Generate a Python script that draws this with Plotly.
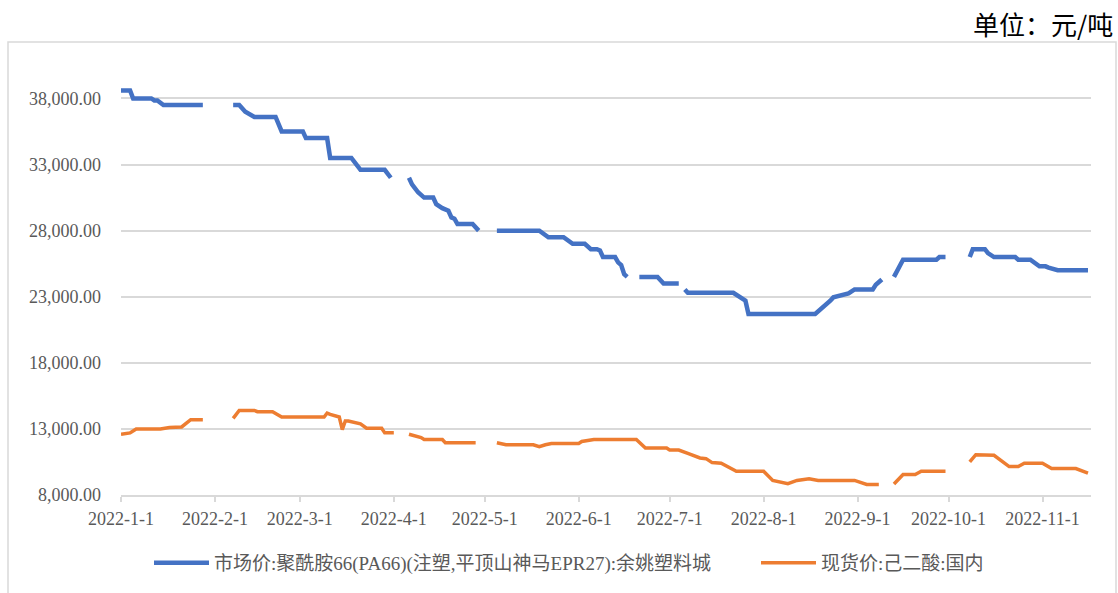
import plotly.graph_objects as go

# ---------------- data ----------------
pa66_name = "市场价:聚酰胺66(PA66)(注塑,平顶山神马EPR27):余姚塑料城"
aa_name = "现货价:己二酸:国内"

pa66_dates = [
    "2022-01-01", "2022-01-04", "2022-01-05", "2022-01-11", "2022-01-12", "2022-01-13",
    "2022-01-15", "2022-01-28", "2022-01-31", "2022-02-07", "2022-02-09", "2022-02-11",
    "2022-02-13", "2022-02-14", "2022-02-21", "2022-02-23", "2022-03-02", "2022-03-03",
    "2022-03-10", "2022-03-11", "2022-03-18", "2022-03-21", "2022-03-29", "2022-03-31",
    "2022-04-02", "2022-04-06", "2022-04-07", "2022-04-09", "2022-04-11", "2022-04-14",
    "2022-04-15", "2022-04-17", "2022-04-19", "2022-04-20", "2022-04-21", "2022-04-22",
    "2022-04-27", "2022-04-29", "2022-05-01", "2022-05-05", "2022-05-19", "2022-05-22",
    "2022-05-27", "2022-05-30", "2022-06-03", "2022-06-05", "2022-06-07", "2022-06-08",
    "2022-06-09", "2022-06-13", "2022-06-14", "2022-06-15", "2022-06-16", "2022-06-17",
    "2022-06-19", "2022-06-21", "2022-06-27", "2022-06-29", "2022-07-04", "2022-07-05",
    "2022-07-06", "2022-07-07", "2022-07-22", "2022-07-25", "2022-07-26", "2022-07-27",
    "2022-08-18", "2022-08-23", "2022-08-24", "2022-08-29", "2022-08-31", "2022-09-06",
    "2022-09-07", "2022-09-09", "2022-09-11", "2022-09-13", "2022-09-15", "2022-09-16",
    "2022-09-27", "2022-09-28", "2022-09-30", "2022-10-03", "2022-10-08", "2022-10-09",
    "2022-10-13", "2022-10-14", "2022-10-16", "2022-10-23", "2022-10-24", "2022-10-28",
    "2022-10-31", "2022-11-02", "2022-11-03", "2022-11-06", "2022-11-16",
]
pa66_values = [
    38600, 38600, 38000, 38000, 37850, 37850,
    37500, 37500, None, 37500, 37500, 37000,
    36700, 36600, 36600, 35500, 35500, 35000,
    35000, 33500, 33500, 32600, 32600, 32000,
    None, 32000, 31500, 30900, 30500, 30500,
    30000, 29700, 29500, 29000, 28900, 28500,
    28500, 28000, None, 28000, 28000, 27500,
    27500, 27000, 27000, 26600, 26600, 26500,
    26000, 26000, 25600, 25400, 24700, 24500,
    None, 24500, 24500, 24000, 24000, None,
    23550, 23300, 23300, 22850, 22700, 21700,
    21700, 22700, 22950, 23250, 23550, 23550,
    23900, 24300, None, 24500, 25400, 25800,
    25800, 26000, 26000, None, 26000, 26600,
    26600, 26300, 26000, 26000, 25800, 25800,
    25300, 25300, 25200, 25000, 25000,
]

aa_dates = [
    "2022-01-01", "2022-01-03", "2022-01-04", "2022-01-06", "2022-01-14", "2022-01-17",
    "2022-01-21", "2022-01-24", "2022-01-28", "2022-01-31", "2022-02-07", "2022-02-09",
    "2022-02-14", "2022-02-15", "2022-02-20", "2022-02-23", "2022-03-09", "2022-03-10",
    "2022-03-11", "2022-03-14", "2022-03-15", "2022-03-16", "2022-03-17", "2022-03-21",
    "2022-03-23", "2022-03-28", "2022-03-29", "2022-04-01", "2022-04-03", "2022-04-06",
    "2022-04-08", "2022-04-10", "2022-04-11", "2022-04-17", "2022-04-18", "2022-04-28",
    "2022-05-01", "2022-05-05", "2022-05-08", "2022-05-17", "2022-05-19", "2022-05-21",
    "2022-05-23", "2022-06-01", "2022-06-02", "2022-06-06", "2022-06-20", "2022-06-23",
    "2022-06-30", "2022-07-01", "2022-07-04", "2022-07-07", "2022-07-11", "2022-07-13",
    "2022-07-15", "2022-07-18", "2022-07-20", "2022-07-23", "2022-08-01", "2022-08-04",
    "2022-08-09", "2022-08-12", "2022-08-16", "2022-08-19", "2022-08-31", "2022-09-04",
    "2022-09-08", "2022-09-11", "2022-09-13", "2022-09-16", "2022-09-20", "2022-09-22",
    "2022-09-30", "2022-10-03", "2022-10-08", "2022-10-10", "2022-10-16", "2022-10-18",
    "2022-10-21", "2022-10-24", "2022-10-26", "2022-11-01", "2022-11-04", "2022-11-12",
    "2022-11-13", "2022-11-16",
]
aa_values = [
    12600, 12650, 12700, 13000, 13000, 13100,
    13150, 13700, 13700, None, 13800, 14400,
    14400, 14300, 14300, 13900, 13900, 14200,
    14100, 13900, 12950, 13600, 13600, 13380,
    13050, 13050, 12700, 12700, None, 12600,
    12450, 12350, 12200, 12200, 11950, 11950,
    None, 11950, 11800, 11800, 11650, 11800,
    11900, 11900, 12050, 12200, 12200, 11550,
    11550, 11400, 11400, 11150, 10800, 10750,
    10450, 10400, 10150, 9800, 9800, 9100,
    8850, 9100, 9230, 9100, 9100, 8800,
    8800, None, 8830, 9550, 9550, 9800,
    9800, None, 10500, 11050, 11000, 10650,
    10150, 10150, 10400, 10400, 10000, 10000,
    9900, 9650,
]

x_tick_vals = ["2022-01-01", "2022-02-01", "2022-03-01", "2022-04-01", "2022-05-01", "2022-06-01",
               "2022-07-01", "2022-08-01", "2022-09-01", "2022-10-01", "2022-11-01"]
x_tick_text = ["2022-1-1", "2022-2-1", "2022-3-1", "2022-4-1", "2022-5-1", "2022-6-1",
               "2022-7-1", "2022-8-1", "2022-9-1", "2022-10-1", "2022-11-1"]
y_tick_vals = [8000, 13000, 18000, 23000, 28000, 33000, 38000]
y_tick_text = ["8,000.00", "13,000.00", "18,000.00", "23,000.00", "28,000.00", "33,000.00", "38,000.00"]

# ---------------- figure ----------------
SERIF = "Liberation Serif, Times New Roman, Noto Sans CJK SC, serif"
GRID = "#d9d9d9"
TXT = "#595959"

fig = go.Figure()
fig.add_trace(go.Scatter(
    x=pa66_dates, y=pa66_values, name=pa66_name, mode="lines",
    line=dict(color="#4472C4", width=4.5), connectgaps=False, legend="legend",
))
fig.add_trace(go.Scatter(
    x=aa_dates, y=aa_values, name=aa_name, mode="lines",
    line=dict(color="#ED7D31", width=3.5), connectgaps=False, legend="legend2",
))

W, H = 1118, 593
L, R, T, B = 121, 27, 72, 97
pw, ph = W - L - R, H - T - B

def px_x(p):
    return (p - L) / pw

def px_y(p):
    return (H - B - p) / ph

fig.update_layout(
    width=W, height=H,
    margin=dict(l=L, r=R, t=T, b=B),
    paper_bgcolor="white", plot_bgcolor="white",
    font=dict(family=SERIF, color=TXT, size=18),
    xaxis=dict(
        type="date", range=["2022-01-01", "2022-11-17"],
        tickvals=x_tick_vals, ticktext=x_tick_text,
        showgrid=False, zeroline=False,
        showline=True, linecolor=GRID, linewidth=1.5,
        ticks="outside", ticklen=5, tickcolor=GRID, tickwidth=1.5,
        ticklabelstandoff=2,
        tickfont=dict(family=SERIF, size=18, color=TXT),
    ),
    yaxis=dict(
        range=[8000, 40000], tickvals=y_tick_vals, ticktext=y_tick_text,
        showgrid=True, gridcolor=GRID, gridwidth=1.5,
        zeroline=False, showline=False, ticks="",
        ticklabelstandoff=19,
        tickfont=dict(family=SERIF, size=18, color=TXT),
    ),
    legend=dict(
        orientation="h", x=px_x(149), y=px_y(563), xanchor="left", yanchor="middle",
        itemwidth=55,
        font=dict(family=SERIF, size=19, color=TXT), bgcolor="rgba(0,0,0,0)",
    ),
    legend2=dict(
        orientation="h", x=px_x(756), y=px_y(563), xanchor="left", yanchor="middle",
        itemwidth=55,
        font=dict(family=SERIF, size=19, color=TXT), bgcolor="rgba(0,0,0,0)",
    ),
    showlegend=True,
)

# outer chart frame
fig.add_shape(type="rect", xref="paper", yref="paper",
              x0=px_x(8), x1=px_x(1116), y0=px_y(640), y1=px_y(42),
              line=dict(color=GRID, width=1.5), fillcolor="rgba(0,0,0,0)", layer="below")

# unit label
fig.add_annotation(text="单位：元/吨", xref="paper", yref="paper",
                   x=px_x(1115), y=px_y(23), xanchor="right", yanchor="middle",
                   showarrow=False,
                   font=dict(family="Noto Sans CJK SC, sans-serif", size=26, color="#000000"))

fig.write_html(
    "out.html",
    config={"displayModeBar": False},
    post_script="document.body.style.margin='0';document.body.style.padding='0';document.body.style.overflow='hidden';",
)
